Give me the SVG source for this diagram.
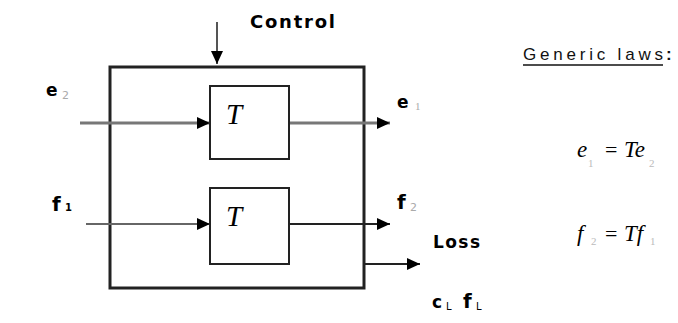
<svg xmlns="http://www.w3.org/2000/svg" width="678" height="323" viewBox="0 0 678 323">
<defs>
<style>
.lbl{font-family:"DejaVu Sans",sans-serif;font-weight:bold;font-size:17px;fill:#000}
.sub{font-family:"DejaVu Sans",sans-serif;font-size:11px;fill:#aaa}
.math{font-family:"Liberation Serif",serif;font-style:italic;font-size:23px;fill:#000}
.msub{font-family:"Liberation Serif",serif;font-size:11px;fill:#bbb}
.eq{font-family:"Liberation Serif",serif;font-size:22px;fill:#000}
.box{fill:#fff;stroke:#222;stroke-width:2}
.outer{fill:none;stroke:#222;stroke-width:3}
.gl{stroke:#777;stroke-width:3;fill:none}
.dl{stroke:#222;stroke-width:1.8;fill:none}
.law{font-family:"Liberation Sans",sans-serif;font-size:17px;fill:#111}
</style>
<marker id="ah" markerUnits="userSpaceOnUse" markerWidth="14" markerHeight="12" viewBox="0 0 14 12" refX="13" refY="6" orient="auto">
<path d="M0,0 L13,6 L0,12 Z" fill="#000"/>
</marker>
</defs>

<g id="system">
<rect class="outer" x="110" y="67" width="254" height="221"/>
</g>

<g id="connectors">
<line class="gl" x1="217" y1="22" x2="217" y2="64" marker-end="url(#ah)" style="stroke:#555;stroke-width:2"/>
<line class="gl" x1="80" y1="123" x2="210" y2="123" marker-end="url(#ah)"/>
<line class="gl" x1="289" y1="123" x2="390" y2="123" marker-end="url(#ah)"/>
<line class="dl" x1="86" y1="224" x2="210" y2="224" marker-end="url(#ah)" style="stroke:#666;stroke-width:2.2"/>
<line class="dl" x1="289" y1="224" x2="390" y2="224" marker-end="url(#ah)"/>
<line class="dl" x1="364" y1="264" x2="420" y2="264" marker-end="url(#ah)"/>
</g>

<g id="T1">
<rect class="box" x="210" y="86" width="79" height="73"/>
<text class="math" x="226" y="124" style="font-size:29px">T</text>
</g>

<g id="T2">
<rect class="box" x="210" y="188" width="79" height="76"/>
<text class="math" x="226" y="226" style="font-size:29px">T</text>
</g>

<g id="labels">
<text class="lbl" x="250" y="28" textLength="85" lengthAdjust="spacing" style="font-size:18px">Control</text>
<text class="lbl" x="46" y="96">e</text><text class="sub" x="62" y="99">2</text>
<text class="lbl" x="397" y="108">e</text><text class="sub" x="415" y="110" style="font-family:'Liberation Serif',serif">1</text>
<text class="lbl" x="52" y="211" style="font-size:20px">f</text><text class="sub" x="65" y="211" style="fill:#000;font-weight:bold;font-size:10px">1</text>
<text class="lbl" x="397" y="209" style="font-size:20px">f</text><text class="sub" x="410" y="211">2</text>
<text class="lbl" x="433" y="248" textLength="47" lengthAdjust="spacing" style="font-size:17px">Loss</text>
<text class="lbl" x="432" y="308">c</text><text class="sub" x="446" y="310" style="fill:#000;font-size:10px">L</text>
<text class="lbl" x="463" y="308" style="font-size:20px">f</text><text class="sub" x="476" y="310" style="fill:#000;font-size:10px">L</text>
</g>

<g id="laws">
<text class="law" x="523" y="60" textLength="140" lengthAdjust="spacing">Generic laws</text>
<line x1="523" y1="65" x2="663" y2="65" stroke="#111" stroke-width="1.5"/>
<text class="law" x="666" y="60" style="font-weight:bold">:</text>
<text class="math" x="577" y="157">e</text><text class="msub" x="588" y="167">1</text>
<text class="eq" x="605" y="157">=</text>
<text class="math" x="624" y="157">Te</text><text class="msub" x="649" y="167">2</text>
<text class="math" x="577" y="241">f</text><text class="msub" x="591" y="245">2</text>
<text class="eq" x="605" y="241">=</text>
<text class="math" x="624" y="241">Tf</text><text class="msub" x="650" y="245">1</text>
</g>
</svg>
